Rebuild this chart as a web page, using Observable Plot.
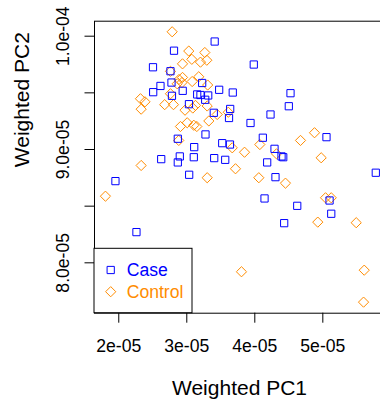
<!DOCTYPE html>
<html><head><meta charset="utf-8">
<script src="https://cdn.jsdelivr.net/npm/d3@7"></script>
<script src="https://cdn.jsdelivr.net/npm/@observablehq/plot@0.6"></script>
<style>html,body{margin:0;padding:0;background:#fff;overflow:hidden;}</style>
</head><body><div id="chart"></div>
<script>
const groups = ["Case", "Control"];
const groupColors = ["#0000FF", "#FF8C00"];
const caseX = [3.410e-5,2.812e-5,2.503e-5,2.760e-5,2.775e-5,2.613e-5,2.506e-5,2.782e-5,2.940e-5,3.226e-5,3.153e-5,3.201e-5,3.315e-5,3.271e-5,3.476e-5,3.676e-5,3.032e-5,3.397e-5,3.638e-5,3.621e-5,3.985e-5,4.525e-5,4.500e-5,4.231e-5,3.937e-5,2.868e-5,3.275e-5,3.109e-5,3.521e-5,3.635e-5,2.624e-5,2.897e-5,2.868e-5,3.103e-5,3.403e-5,3.565e-5,3.035e-5,1.951e-5,2.260e-5,4.118e-5,4.290e-5,4.393e-5,4.418e-5,4.182e-5,5.054e-5,4.304e-5,5.779e-5,4.143e-5,5.099e-5,4.624e-5,5.124e-5,4.432e-5];
const caseY = [9.953e-5,9.872e-5,9.726e-5,9.691e-5,9.591e-5,9.561e-5,9.506e-5,9.474e-5,9.518e-5,9.587e-5,9.486e-5,9.481e-5,9.477e-5,9.439e-5,9.527e-5,9.503e-5,9.400e-5,9.324e-5,9.358e-5,9.278e-5,9.750e-5,9.497e-5,9.382e-5,9.309e-5,9.234e-5,9.095e-5,9.133e-5,9.021e-5,9.056e-5,9.044e-5,8.915e-5,8.939e-5,8.886e-5,8.932e-5,8.924e-5,8.909e-5,8.777e-5,8.721e-5,8.271e-5,9.104e-5,9.006e-5,8.939e-5,8.932e-5,8.886e-5,9.109e-5,8.756e-5,8.795e-5,8.568e-5,8.550e-5,8.503e-5,8.433e-5,8.350e-5];
const controlX = [2.785e-5,3.029e-5,3.265e-5,2.937e-5,3.074e-5,3.201e-5,3.294e-5,2.760e-5,3.176e-5,2.885e-5,2.937e-5,2.929e-5,3.079e-5,3.307e-5,2.859e-5,2.760e-5,2.319e-5,2.385e-5,2.329e-5,2.675e-5,2.804e-5,2.974e-5,3.128e-5,3.088e-5,3.300e-5,3.324e-5,3.447e-5,3.610e-5,2.907e-5,3.006e-5,3.103e-5,3.147e-5,2.882e-5,3.668e-5,2.329e-5,3.300e-5,1.804e-5,4.074e-5,3.849e-5,4.319e-5,4.672e-5,4.878e-5,4.976e-5,3.716e-5,4.059e-5,4.451e-5,5.040e-5,5.124e-5,4.926e-5,5.491e-5,3.804e-5,5.609e-5,5.599e-5];
const controlY = [10.039e-5,9.869e-5,9.856e-5,9.756e-5,9.796e-5,9.771e-5,9.788e-5,9.690e-5,9.642e-5,9.618e-5,9.636e-5,9.591e-5,9.600e-5,9.569e-5,9.580e-5,9.492e-5,9.448e-5,9.421e-5,9.356e-5,9.396e-5,9.396e-5,9.347e-5,9.389e-5,9.366e-5,9.384e-5,9.252e-5,9.309e-5,9.329e-5,9.203e-5,9.236e-5,9.214e-5,9.203e-5,9.080e-5,9.015e-5,8.859e-5,8.751e-5,8.588e-5,9.044e-5,8.976e-5,8.962e-5,9.080e-5,9.148e-5,8.927e-5,8.830e-5,8.751e-5,8.703e-5,8.574e-5,8.574e-5,8.359e-5,8.354e-5,7.921e-5,7.935e-5,7.653e-5];
const xTicks = [2e-5, 3e-5, 4e-5, 5e-5];
const xTickLabels = ["2e-05", "3e-05", "4e-05", "5e-05"];
const yTicks = [8.0e-5, 8.5e-5, 9.0e-5, 9.5e-5, 10.0e-5];
const yLabelTicks = [8.0e-5, 9.0e-5, 10.0e-5];
const yTickLabels = ["8.0e-05", "9.0e-05", "1.0e-04"];
const xTitle = "Weighted PC1";
const yTitle = "Weighted PC2";

const caseData = caseX.map((x, i) => ({x, y: caseY[i]}));
const controlData = controlX.map((x, i) => ({x, y: controlY[i]}));
const R = 4.6;
const FS = 17.6;

const plot = Plot.plot({
  width: 380, height: 405,
  marginLeft: 94, marginRight: -4, marginTop: 20.7, marginBottom: 92.3,
  style: {fontFamily: "'Liberation Sans', Arial, Helvetica, sans-serif", background: "white", color: "black"},
  x: {domain: [1.643e-5, 5.907e-5], label: null},
  y: {domain: [7.5553e-5, 1.01324e-4], label: null},
  marks: [
    Plot.frame({stroke: "black", strokeWidth: 1}),
    Plot.axisX({ticks: xTicks, tickSize: 10, tickPadding: 16.7, fontSize: FS, label: null,
      tickFormat: d => xTickLabels[xTicks.indexOf(d)]}),
    Plot.axisY({ticks: yTicks, tickSize: 9.5, label: null, tickFormat: () => ""}),
    Plot.text(yLabelTicks, {y: d => d, text: (d, i) => yTickLabels[i], frameAnchor: "left", dx: -31.1,
      rotate: -90, textAnchor: "middle", lineAnchor: "middle", fontSize: FS, fill: "black"}),
    Plot.text([xTitle], {text: d => d, frameAnchor: "bottom", dy: 74.6, fontSize: 21, lineAnchor: "middle", fill: "black"}),
    Plot.text([yTitle], {text: d => d, frameAnchor: "left", dx: -72.2, rotate: -90, fontSize: 21, lineAnchor: "middle", fill: "black"}),
    Plot.dot(controlData, {x: "x", y: "y", symbol: "diamond2", r: R, stroke: groupColors[1], fill: "none", strokeWidth: 1}),
    Plot.dot(caseData, {x: "x", y: "y", symbol: "square2", r: R, stroke: groupColors[0], fill: "none", strokeWidth: 1})
  ]
});
document.getElementById("chart").appendChild(plot);

// legend (bottom-left inside plot region, like R legend("bottomleft"))
const xs = plot.scale("x"), ys = plot.scale("y");
const left = xs.range[0], bottom = ys.range[0];
const svg = d3.select(plot);
const lg = svg.append("g").attr("text-anchor", "start");
const bw = 98, bh = 64.4;
lg.append("rect").attr("x", left).attr("y", bottom - bh).attr("width", bw).attr("height", bh)
  .attr("fill", "white").attr("stroke", "black").attr("stroke-width", 1);
const symSize = Math.PI * R * R;
const syms = [d3.symbolSquare2, d3.symbolDiamond2];
groups.forEach((g, i) => {
  const cy = bottom - bh + 21.7 + i * 21.7;
  lg.append("path").attr("d", d3.symbol(syms[i], symSize)())
    .attr("transform", `translate(${left + 16.7},${cy})`)
    .attr("fill", "none").attr("stroke", groupColors[i]).attr("stroke-width", 1);
  lg.append("text").attr("x", left + 32.7).attr("y", cy).attr("dy", "0.35em")
    .attr("text-anchor", "start")
    .attr("fill", groupColors[i]).attr("font-size", FS).text(g);
});
</script></body></html>
